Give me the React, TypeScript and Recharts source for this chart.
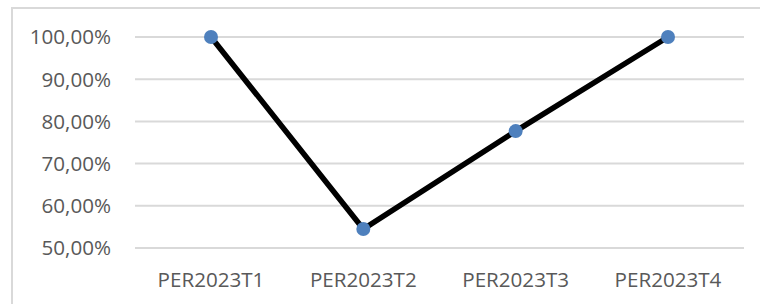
import { CartesianGrid, Line, LineChart, XAxis, YAxis } from "recharts";

const periods = ["PER2023T1", "PER2023T2", "PER2023T3", "PER2023T4"];
const rates = [100, 54.5, 77.7, 100];
const yTicks = [50, 60, 70, 80, 90, 100];

const data = periods.map((name, i) => ({ name, rate: rates[i] }));

const fmt = (v: number) => `${v.toFixed(2).replace(".", ",")}%`;

const tickStyle = { fill: "#595959", fontSize: 20.6, fontFamily: "'Open Sans', sans-serif" };

export default function App() {
  return (
    <div style={{ position: "absolute", left: 0, top: 0, width: 760, height: 304, background: "#fff", overflow: "hidden" }}>
      <div
        style={{
          position: "absolute",
          left: 11,
          top: 7,
          width: 749,
          height: 297,
          borderLeft: "2px solid #d9d9d9",
          borderTop: "2px solid #d9d9d9",
          boxSizing: "border-box",
        }}
      />
      <div style={{ position: "absolute", left: 0, top: 0 }}>
        <LineChart width={760} height={304} data={data} margin={{ top: 37, right: 16, bottom: 16, left: 35 }}>
          <CartesianGrid vertical={false} stroke="#d9d9d9" strokeWidth={2} />
          <XAxis
            dataKey="name"
            axisLine={false}
            tickLine={false}
            height={40}
            tickMargin={18}
            padding={{ left: 76, right: 76 }}
            tick={tickStyle}
            interval={0}
          />
          <YAxis
            domain={[50, 100]}
            ticks={yTicks}
            axisLine={false}
            tickLine={false}
            width={100}
            tickMargin={18}
            tickFormatter={fmt}
            tick={tickStyle}
          />
          <Line
            type="linear"
            dataKey="rate"
            stroke="#000000"
            strokeWidth={5.5}
            dot={{ r: 7, fill: "#4e80bd", stroke: "none", strokeWidth: 0 }}
            activeDot={false}
            isAnimationActive={false}
          />
        </LineChart>
      </div>
    </div>
  );
}
